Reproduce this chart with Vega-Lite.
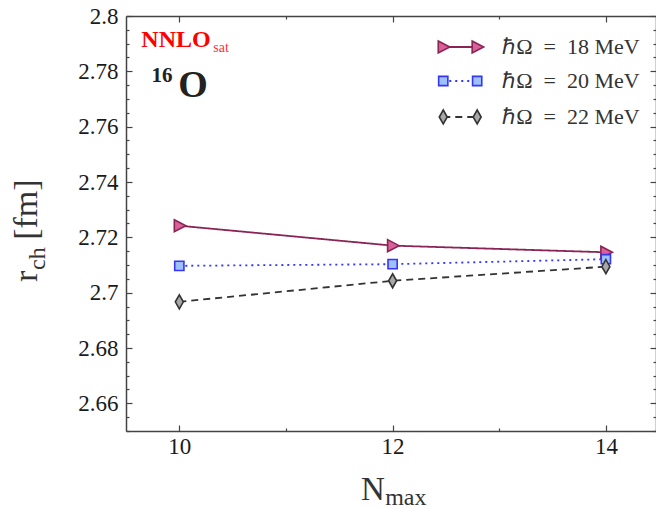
{
  "$schema": "https://vega.github.io/schema/vega-lite/v6.json",
  "width": 530,
  "height": 415,
  "autosize": "none",
  "padding": {"left": 126, "top": 16, "right": 0, "bottom": 78},
  "background": "white",
  "config": {"view": {"stroke": null}, "font": "Liberation Serif"},
  "datasets": {
    "series": [
      {"hw": "18", "nmax": 10, "r": 2.7242},
      {"hw": "18", "nmax": 12, "r": 2.7170},
      {"hw": "18", "nmax": 14, "r": 2.7146},
      {"hw": "20", "nmax": 10, "r": 2.7097},
      {"hw": "20", "nmax": 12, "r": 2.7103},
      {"hw": "20", "nmax": 14, "r": 2.7121},
      {"hw": "22", "nmax": 10, "r": 2.6967},
      {"hw": "22", "nmax": 12, "r": 2.7043},
      {"hw": "22", "nmax": 14, "r": 2.7094}
    ],
    "legend": [
      {"hw": "18", "x": 12.475, "y": 2.7888},
      {"hw": "18", "x": 12.793, "y": 2.7888},
      {"hw": "20", "x": 12.475, "y": 2.7765},
      {"hw": "20", "x": 12.793, "y": 2.7765},
      {"hw": "22", "x": 12.475, "y": 2.7635},
      {"hw": "22", "x": 12.793, "y": 2.7635}
    ],
    "legendText": [
      {"x": 13.028, "y": 2.7888, "t": "ℏΩ\u2002=\u200218 MeV"},
      {"x": 13.028, "y": 2.7765, "t": "ℏΩ\u2002=\u200220 MeV"},
      {"x": 13.028, "y": 2.7635, "t": "ℏΩ\u2002=\u200222 MeV"}
    ]
  },
  "resolve": {"axis": {"x": "independent", "y": "independent"}},
  "layer": [
    {
      "data": {"name": "series"},
      "mark": {"type": "line", "strokeWidth": 1.8},
      "encoding": {
        "x": {
          "field": "nmax", "type": "quantitative",
          "scale": {"domain": [9.5, 14.47], "nice": false, "zero": false},
          "axis": {
            "orient": "bottom", "title": null, "grid": false,
            "values": [10, 11, 12, 13, 14],
            "labelExpr": "datum.value % 2 == 0 ? format(datum.value, 'd') : ''",
            "tickSize": {"condition": {"test": "datum.value % 2 == 0", "value": -6}, "value": -3},
            "domainColor": "#444", "domainWidth": 1.5, "tickColor": "#444", "tickWidth": 1.2,
            "labelFont": "Liberation Serif", "labelFontSize": 23, "labelColor": "#1a1a1a", "labelPadding": 10
          }
        },
        "y": {
          "field": "r", "type": "quantitative",
          "scale": {"domain": [2.65, 2.8], "nice": false, "zero": false},
          "axis": {
            "orient": "left", "title": null, "grid": false,
            "values": [2.65, 2.655, 2.66, 2.665, 2.67, 2.675, 2.68, 2.685, 2.69, 2.695, 2.7, 2.705, 2.71, 2.715, 2.72, 2.725, 2.73, 2.735, 2.74, 2.745, 2.75, 2.755, 2.76, 2.765, 2.77, 2.775, 2.78, 2.785, 2.79, 2.795, 2.8],
            "labelExpr": "(round(datum.value*1000) % 20 == 0) ? format(datum.value, '.4~g') : ''",
            "tickSize": {"condition": {"test": "round(datum.value*1000) % 20 == 0", "value": -6}, "value": -3},
            "domainColor": "#444", "domainWidth": 1.5, "tickColor": "#444", "tickWidth": 1.2,
            "labelFont": "Liberation Serif", "labelFontSize": 23, "labelColor": "#1a1a1a", "labelPadding": 14
          }
        },
        "stroke": {
          "field": "hw", "type": "nominal",
          "scale": {"domain": ["18", "20", "22"], "range": ["#8a2454", "#3535f5", "#333333"]},
          "legend": null
        },
        "strokeDash": {
          "field": "hw", "type": "nominal",
          "scale": {"domain": ["18", "20", "22"], "range": [[1, 0], [2, 4], [7, 5]]},
          "legend": null
        }
      }
    },
    {
      "data": {"name": "series"},
      "mark": {"type": "point", "strokeWidth": 1.6, "opacity": 1, "fillOpacity": 1, "size": 400},
      "encoding": {
        "x": {
          "field": "nmax", "type": "quantitative",
          "scale": {"domain": [9.5, 14.47], "nice": false, "zero": false},
          "axis": {
            "orient": "top", "title": null, "grid": false, "labels": false,
            "values": [10, 11, 12, 13, 14],
            "tickSize": {"condition": {"test": "datum.value % 2 == 0", "value": -6}, "value": -3},
            "domainColor": "#444", "domainWidth": 1.5, "tickColor": "#444", "tickWidth": 1.2
          }
        },
        "y": {
          "field": "r", "type": "quantitative",
          "scale": {"domain": [2.65, 2.8], "nice": false, "zero": false},
          "axis": {
            "orient": "right", "title": null, "grid": false, "labels": false,
            "values": [2.65, 2.655, 2.66, 2.665, 2.67, 2.675, 2.68, 2.685, 2.69, 2.695, 2.7, 2.705, 2.71, 2.715, 2.72, 2.725, 2.73, 2.735, 2.74, 2.745, 2.75, 2.755, 2.76, 2.765, 2.77, 2.775, 2.78, 2.785, 2.79, 2.795, 2.8],
            "tickSize": {"condition": {"test": "round(datum.value*1000) % 20 == 0", "value": -6}, "value": -3},
            "domainColor": "#444", "domainWidth": 1.5, "tickColor": "#444", "tickWidth": 1.2
          }
        },
        "shape": {
          "field": "hw", "type": "nominal",
          "scale": {"domain": ["18", "20", "22"], "range": ["M-0.5,-0.6L0.65,0L-0.5,0.6Z", "M-0.46,-0.46H0.46V0.46H-0.46Z", "M0,-0.7L0.4,0L0,0.7L-0.4,0Z"]},
          "legend": null
        },
        "fill": {
          "field": "hw", "type": "nominal",
          "scale": {"domain": ["18", "20", "22"], "range": ["#d9609a", "#9fc0ff", "#a8a8a8"]},
          "legend": null
        },
        "stroke": {
          "field": "hw", "type": "nominal",
          "scale": {"domain": ["18", "20", "22"], "range": ["#8a2454", "#3535f5", "#333333"]},
          "legend": null
        }
      }
    },
    {
      "data": {"name": "legend"},
      "mark": {"type": "line", "strokeWidth": 1.8},
      "encoding": {
        "x": {"field": "x", "type": "quantitative", "scale": {"domain": [9.5, 14.47], "nice": false, "zero": false}, "axis": null},
        "y": {"field": "y", "type": "quantitative", "scale": {"domain": [2.65, 2.8], "nice": false, "zero": false}, "axis": null},
        "detail": {"field": "hw"},
        "stroke": {"field": "hw", "type": "nominal", "scale": {"domain": ["18", "20", "22"], "range": ["#8a2454", "#3535f5", "#333333"]}, "legend": null},
        "strokeDash": {"field": "hw", "type": "nominal", "scale": {"domain": ["18", "20", "22"], "range": [[1, 0], [2, 4], [7, 5]]}, "legend": null}
      }
    },
    {
      "data": {"name": "legend"},
      "mark": {"type": "point", "strokeWidth": 1.6, "opacity": 1, "fillOpacity": 1, "size": 400},
      "encoding": {
        "x": {"field": "x", "type": "quantitative", "scale": {"domain": [9.5, 14.47], "nice": false, "zero": false}, "axis": null},
        "y": {"field": "y", "type": "quantitative", "scale": {"domain": [2.65, 2.8], "nice": false, "zero": false}, "axis": null},
        "shape": {"field": "hw", "type": "nominal", "scale": {"domain": ["18", "20", "22"], "range": ["M-0.5,-0.6L0.65,0L-0.5,0.6Z", "M-0.46,-0.46H0.46V0.46H-0.46Z", "M0,-0.7L0.4,0L0,0.7L-0.4,0Z"]}, "legend": null},
        "fill": {"field": "hw", "type": "nominal", "scale": {"domain": ["18", "20", "22"], "range": ["#d9609a", "#9fc0ff", "#a8a8a8"]}, "legend": null},
        "stroke": {"field": "hw", "type": "nominal", "scale": {"domain": ["18", "20", "22"], "range": ["#8a2454", "#3535f5", "#333333"]}, "legend": null}
      }
    },
    {
      "data": {"name": "legendText"},
      "mark": {"type": "text", "align": "left", "baseline": "middle", "font": "Liberation Serif", "fontSize": 22, "color": "#333"},
      "encoding": {
        "x": {"field": "x", "type": "quantitative", "scale": {"domain": [9.5, 14.47], "nice": false, "zero": false}, "axis": null},
        "y": {"field": "y", "type": "quantitative", "scale": {"domain": [2.65, 2.8], "nice": false, "zero": false}, "axis": null},
        "text": {"field": "t"}
      }
    },
    {
      "data": {"values": [{"x": 9.644, "y": 2.7888, "t": "NNLO"}]},
      "mark": {"type": "text", "align": "left", "baseline": "alphabetic", "font": "Liberation Serif", "fontSize": 24, "fontWeight": "bold", "color": "#ff0000"},
      "encoding": {
        "x": {"field": "x", "type": "quantitative", "scale": {"domain": [9.5, 14.47], "nice": false, "zero": false}, "axis": null},
        "y": {"field": "y", "type": "quantitative", "scale": {"domain": [2.65, 2.8], "nice": false, "zero": false}, "axis": null},
        "text": {"field": "t"}
      }
    },
    {
      "data": {"values": [{"x": 10.319, "y": 2.7870, "t": "sat"}]},
      "mark": {"type": "text", "align": "left", "baseline": "alphabetic", "font": "Liberation Serif", "fontSize": 14, "color": "#ff3030"},
      "encoding": {
        "x": {"field": "x", "type": "quantitative", "scale": {"domain": [9.5, 14.47], "nice": false, "zero": false}, "axis": null},
        "y": {"field": "y", "type": "quantitative", "scale": {"domain": [2.65, 2.8], "nice": false, "zero": false}, "axis": null},
        "text": {"field": "t"}
      }
    },
    {
      "data": {"values": [{"x": 9.738, "y": 2.7762, "t": "16"}]},
      "mark": {"type": "text", "align": "left", "baseline": "alphabetic", "font": "Liberation Serif", "fontSize": 21, "fontWeight": "bold", "color": "#222"},
      "encoding": {
        "x": {"field": "x", "type": "quantitative", "scale": {"domain": [9.5, 14.47], "nice": false, "zero": false}, "axis": null},
        "y": {"field": "y", "type": "quantitative", "scale": {"domain": [2.65, 2.8], "nice": false, "zero": false}, "axis": null},
        "text": {"field": "t"}
      }
    },
    {
      "data": {"values": [{"x": 9.991, "y": 2.7707, "t": "O"}]},
      "mark": {"type": "text", "align": "left", "baseline": "alphabetic", "font": "Liberation Serif", "fontSize": 38, "fontWeight": "bold", "color": "#222"},
      "encoding": {
        "x": {"field": "x", "type": "quantitative", "scale": {"domain": [9.5, 14.47], "nice": false, "zero": false}, "axis": null},
        "y": {"field": "y", "type": "quantitative", "scale": {"domain": [2.65, 2.8], "nice": false, "zero": false}, "axis": null},
        "text": {"field": "t"}
      }
    },
    {
      "data": {"values": [{"x": 11.7045, "y": 2.6251, "t": "N"}]},
      "mark": {"type": "text", "align": "left", "baseline": "alphabetic", "font": "Liberation Serif", "fontSize": 33, "color": "#333", "clip": false},
      "encoding": {
        "x": {"field": "x", "type": "quantitative", "scale": {"domain": [9.5, 14.47], "nice": false, "zero": false}, "axis": null},
        "y": {"field": "y", "type": "quantitative", "scale": {"domain": [2.65, 2.8], "nice": false, "zero": false}, "axis": null},
        "text": {"field": "t"}
      }
    },
    {
      "data": {"values": [{"x": 11.93, "y": 2.6233, "t": "max"}]},
      "mark": {"type": "text", "align": "left", "baseline": "alphabetic", "font": "Liberation Serif", "fontSize": 24, "color": "#333", "clip": false},
      "encoding": {
        "x": {"field": "x", "type": "quantitative", "scale": {"domain": [9.5, 14.47], "nice": false, "zero": false}, "axis": null},
        "y": {"field": "y", "type": "quantitative", "scale": {"domain": [2.65, 2.8], "nice": false, "zero": false}, "axis": null},
        "text": {"field": "t"}
      }
    },
    {
      "data": {"values": [{"x": 8.670, "y": 2.7039, "t": "r"}, {"x": 8.670, "y": 2.7191, "t": "[fm]"}]},
      "mark": {"type": "text", "align": "left", "baseline": "alphabetic", "angle": 270, "font": "Liberation Serif", "fontSize": 34, "color": "#333", "clip": false},
      "encoding": {
        "x": {"field": "x", "type": "quantitative", "scale": {"domain": [9.5, 14.47], "nice": false, "zero": false}, "axis": null},
        "y": {"field": "y", "type": "quantitative", "scale": {"domain": [2.65, 2.8], "nice": false, "zero": false}, "axis": null},
        "text": {"field": "t"}
      }
    },
    {
      "data": {"values": [{"x": 8.745, "y": 2.7082, "t": "ch"}]},
      "mark": {"type": "text", "align": "left", "baseline": "alphabetic", "angle": 270, "font": "Liberation Serif", "fontSize": 24, "color": "#333", "clip": false},
      "encoding": {
        "x": {"field": "x", "type": "quantitative", "scale": {"domain": [9.5, 14.47], "nice": false, "zero": false}, "axis": null},
        "y": {"field": "y", "type": "quantitative", "scale": {"domain": [2.65, 2.8], "nice": false, "zero": false}, "axis": null},
        "text": {"field": "t"}
      }
    }
  ]
}
